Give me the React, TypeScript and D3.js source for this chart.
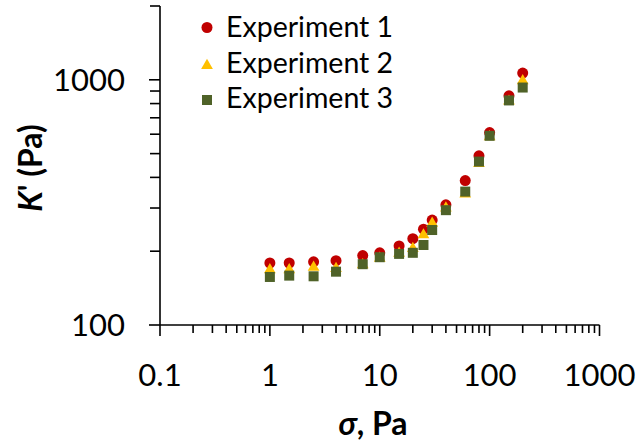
import React, { useEffect, useRef } from 'react';
import * as d3 from 'd3';

// shear stress (Pa) and storage modulus K' (Pa) per experiment
const stress = [1, 1.5, 2.5, 4, 7, 10, 15, 20, 25, 30, 40, 60, 80, 100, 150, 200];
const exp1 = [179, 179, 181, 183, 192, 197, 210, 225, 246, 268, 309, 388, 490, 609, 860, 1065];
const exp2 = [168, 168, 172, 170, 176, 187, 196, 205, 233, 260, 300, 342, 455, 585, 818, 990];
const exp3 = [157, 159, 158, 165, 177, 189, 195, 197, 212, 244, 294, 350, 464, 591, 824, 930];

const xMajor = [0.1, 1, 10, 100, 1000];
const xLabels = ['0.1', '1', '10', '100', '1000'];
const yMajor = [100, 1000];
const yLabels = ['100', '1000'];
const legendNames = ['Experiment 1', 'Experiment 2', 'Experiment 3'];

const colors = ['#C00000', '#FFC000', '#4F6228'];
const FONT = 'Lato, "Open Sans", sans-serif';

const App = () => {
  const svgRef = useRef<SVGSVGElement>(null);

  useEffect(() => {
    const width = 641;
    const height = 445;
    const svg = d3.select(svgRef.current).attr('width', width).attr('height', height);
    svg.selectAll('*').remove();

    const x = d3.scaleLog().domain([0.1, 1000]).range([160, 599.5]);
    const y = d3.scaleLog().domain([100, 2000]).range([325, 6]);

    const xMinor: number[] = [];
    for (let d = 0.1; d < 999; d *= 10) {
      for (let k = 2; k <= 9; k++) xMinor.push(d * k);
    }
    const yMinor = [200, 300, 400, 500, 600, 700, 800, 900, 2000];

    const axes = svg.append('g').attr('stroke', '#000').attr('stroke-width', 1.6);
    axes.append('line').attr('x1', x(0.1)).attr('x2', x(1000)).attr('y1', y(100)).attr('y2', y(100));
    axes.append('line').attr('x1', x(0.1)).attr('x2', x(0.1)).attr('y1', y(2000)).attr('y2', y(100));

    axes.selectAll('.xmin').data(xMinor).join('line')
      .attr('x1', d => x(d)).attr('x2', d => x(d))
      .attr('y1', y(100)).attr('y2', y(100) + 8);
    axes.selectAll('.xmaj').data(xMajor).join('line')
      .attr('x1', d => x(d)).attr('x2', d => x(d))
      .attr('y1', y(100)).attr('y2', y(100) + 11);
    axes.selectAll('.ymin').data(yMinor).join('line')
      .attr('x1', x(0.1) - 10).attr('x2', x(0.1))
      .attr('y1', d => y(d)).attr('y2', d => y(d));
    axes.selectAll('.ymaj').data(yMajor).join('line')
      .attr('x1', x(0.1) - 11).attr('x2', x(0.1))
      .attr('y1', d => y(d)).attr('y2', d => y(d));

    svg.append('g').selectAll('text').data(xMajor).join('text')
      .attr('x', d => x(d)).attr('y', 386)
      .attr('text-anchor', 'middle')
      .attr('font-family', FONT).attr('font-size', 31)
      .text((d, i) => xLabels[i]);

    svg.append('g').selectAll('text').data(yMajor).join('text')
      .attr('x', 125).attr('y', d => y(d) + 11)
      .attr('text-anchor', 'end')
      .attr('font-family', FONT).attr('font-size', 31)
      .text((d, i) => yLabels[i]);

    // data: circles, then triangles, squares on top
    const plot = svg.append('g');
    plot.selectAll('circle').data(exp1).join('circle')
      .attr('cx', (d, i) => x(stress[i])).attr('cy', d => y(d))
      .attr('r', 5.5).attr('fill', colors[0]);
    const tri = d3.symbol().type(d3.symbolTriangle).size(60);
    plot.append('g').selectAll('path').data(exp2).join('path')
      .attr('transform', (d, i) => `translate(${x(stress[i])},${y(d)})`)
      .attr('d', tri()).attr('fill', colors[1]);
    plot.append('g').selectAll('rect').data(exp3).join('rect')
      .attr('x', (d, i) => x(stress[i]) - 5).attr('y', d => y(d) - 5)
      .attr('width', 10).attr('height', 10).attr('fill', colors[2]);

    // legend
    const markRows = [27.5, 65.5, 100];
    const textRows = [27.5, 63, 98.5];
    const leg = svg.append('g');
    leg.append('circle').attr('cx', 207).attr('cy', markRows[0]).attr('r', 5.5).attr('fill', colors[0]);
    leg.append('path').attr('transform', `translate(207,${markRows[1]})`).attr('d', tri()).attr('fill', colors[1]);
    leg.append('rect').attr('x', 202).attr('y', markRows[2] - 5).attr('width', 10).attr('height', 10).attr('fill', colors[2]);
    leg.selectAll('text').data(legendNames).join('text')
      .attr('x', 226).attr('y', (d, i) => textRows[i] + 9.8)
      .attr('font-family', FONT).attr('font-size', 28.5)
      .text(d => d);

    // axis titles
    const xt = svg.append('text')
      .attr('x', 373).attr('y', 435).attr('text-anchor', 'middle')
      .attr('font-family', FONT).attr('font-size', 32).attr('font-weight', 'bold');
    xt.append('tspan').attr('font-style', 'italic').text('σ');
    xt.append('tspan').text(', Pa');

    const yt = svg.append('text')
      .attr('transform', 'translate(42,168) rotate(-90)').attr('text-anchor', 'middle')
      .attr('font-family', FONT).attr('font-size', 32).attr('font-weight', 'bold');
    yt.append('tspan').attr('font-style', 'italic').text('K');
    yt.append('tspan').text("' (Pa)");
  }, []);

  return <svg ref={svgRef} style={{ position: 'absolute', left: 0, top: 0, background: '#fff' }} />;
};

export default App;
